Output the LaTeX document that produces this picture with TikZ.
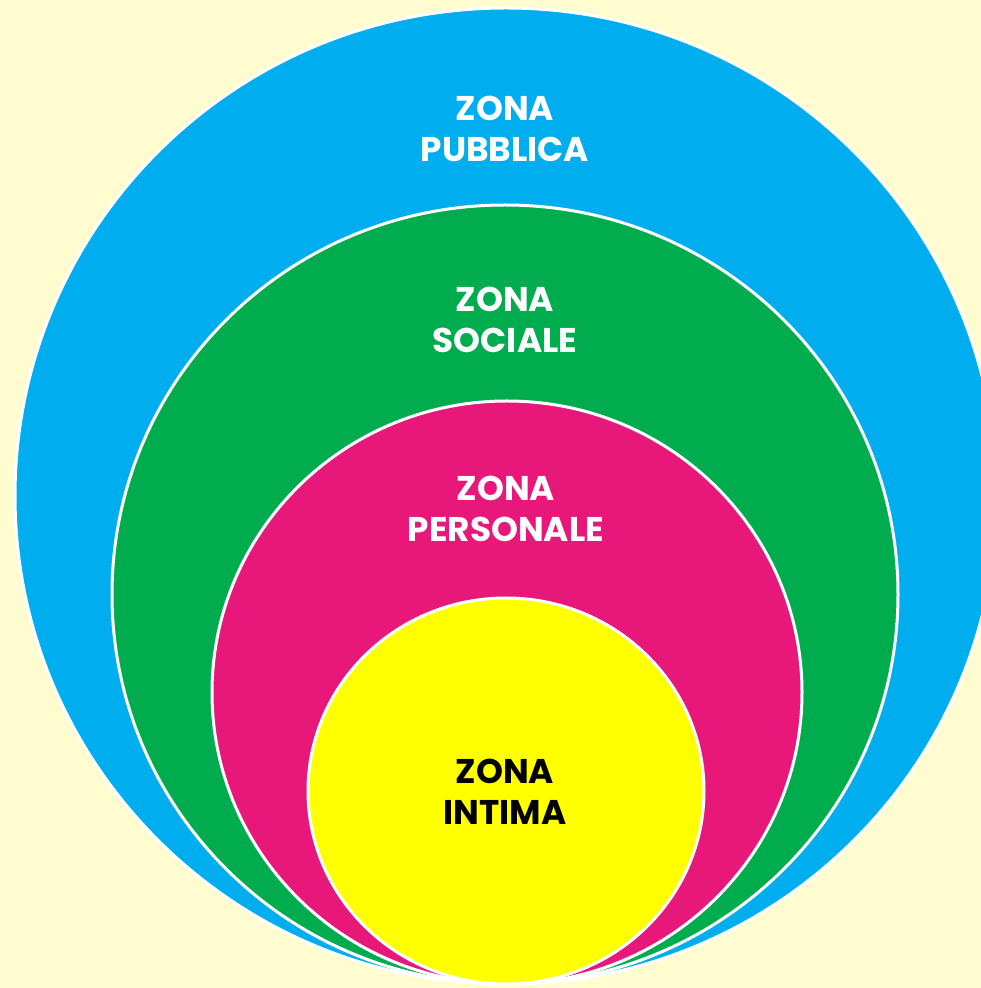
\documentclass[tikz,border=0pt]{standalone}
\usepackage{fontspec}
\usepackage{xcolor}
\newfontfamily\zonefont{Poppins}
\definecolor{paper}{RGB}{255,253,208}
\definecolor{zblue}{RGB}{0,174,239}
\definecolor{zgreen}{RGB}{0,172,78}
\definecolor{zpink}{RGB}{232,23,122}
\definecolor{zyellow}{RGB}{255,255,0}

\begin{document}
\begin{tikzpicture}[x=0.02cm,y=0.02cm,
    ring/.style={draw=white, line width=0.06cm},
    zonetext/.style={align=center, inner sep=0pt,
      font=\zonefont\bfseries\fontsize{19.5}{23.2}\selectfont}]
            % --- Background ---
            \useasboundingbox (0,0) rectangle (981,988);
            \fill[paper] (0,0) rectangle (981,988);
            \clip (0,0) rectangle (981,988);

            % --- Zones, outer to inner, all touching at the bottom ---
            \filldraw[ring, fill=zblue] (506,492) ellipse [x radius=491, y radius=488];
            \filldraw[ring, fill=zgreen] (505,393.5) ellipse [x radius=393, y radius=389.5];
            \filldraw[ring, fill=zpink] (507,295.5) ellipse [x radius=295, y radius=291.5];
            \filldraw[ring, fill=zyellow] (506,197) ellipse [x radius=198, y radius=193];

            % --- Labels ---
            \node[zonetext, white] (pubblica) at (505,859) {ZONA\\PUBBLICA};
            \node[zonetext, white] (sociale) at (505,668) {ZONA\\SOCIALE};
            \node[zonetext, white] (personale) at (506,479) {ZONA\\PERSONALE};
            \node[zonetext, black] (intima) at (505,196.5) {ZONA\\INTIMA};
\end{tikzpicture}
\end{document}
